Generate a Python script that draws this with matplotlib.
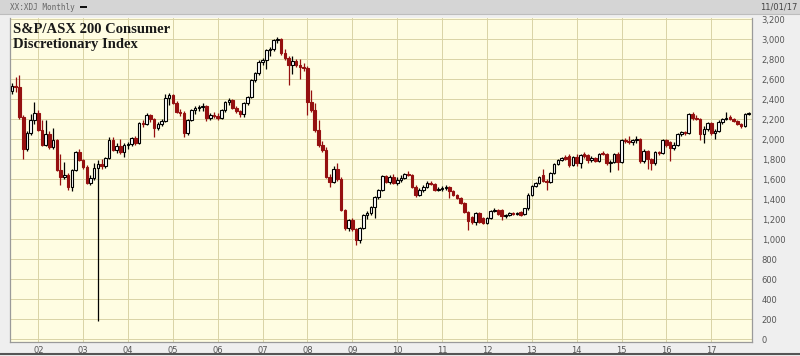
import matplotlib
matplotlib.use("Agg")
import matplotlib.pyplot as plt
import matplotlib.dates as mdates
from matplotlib.patches import Rectangle
from matplotlib.lines import Line2D
import pandas as pd
import numpy as np

# Monthly candles, Jun 2001 .. Nov 2017
months = pd.date_range("2001-06-01", "2017-11-01", freq="MS")

opens = [
    2480, 2530, 2520, 2220, 1900, 2060, 2190,
    2260, 2090, 1940, 2050, 1920, 1990, 1690, 1620, 1640, 1520, 1690, 1870,
    1790, 1720, 1560, 1610, 1710, 1750, 1730, 1810, 1990, 1890, 1930, 1870,
    1940, 1950, 2010, 1960, 2160, 2150, 2240, 2200, 2110, 2150, 2180, 2410,
    2440, 2360, 2270, 2260, 2060, 2190, 2290, 2310, 2320, 2330, 2210, 2240,
    2230, 2210, 2290, 2370, 2390, 2310, 2280, 2250, 2360, 2420, 2590, 2660,
    2770, 2790, 2890, 2900, 2990, 3000, 2860, 2810, 2740, 2780, 2740, 2720,
    2710, 2370, 2290, 2090, 1940, 1890, 1620, 1570, 1700, 1600, 1290, 1110,
    1190, 1100, 990, 1110, 1240, 1260, 1320, 1420, 1490, 1630, 1570, 1620,
    1560, 1590, 1610, 1650, 1640, 1520, 1440, 1490, 1520, 1560, 1550, 1490,
    1500, 1510, 1520, 1480, 1440, 1410, 1360, 1270, 1220, 1170, 1260, 1210,
    1160, 1210, 1280, 1290, 1290, 1230, 1240, 1260, 1250, 1270, 1250, 1310,
    1440, 1530, 1560, 1640, 1580, 1570, 1660, 1750, 1790, 1820, 1830, 1740,
    1820, 1760, 1850, 1840, 1790, 1810, 1780, 1860, 1850, 1760, 1770, 1850,
    1770, 1990, 1980, 1970, 1990, 2000, 1780, 1880, 1800, 1760, 1870, 1860,
    1990, 1970, 1910, 1940, 2050, 2070, 2060, 2250, 2210, 2200, 2050, 2100,
    2160, 2060, 2080, 2170, 2200, 2220, 2200, 2180, 2150, 2130, 2250,
]
highs = [
    2560, 2620, 2640, 2240, 2080, 2250, 2370,
    2290, 2190, 2190, 2080, 2110, 2000, 1850, 1770, 1660, 1700, 1880, 1900,
    1800, 1740, 1640, 1760, 1790, 1800, 1820, 2020, 2020, 1960, 2000, 1960,
    1970, 2020, 2030, 2170, 2190, 2260, 2250, 2210, 2170, 2200, 2450, 2460,
    2450, 2380, 2300, 2280, 2200, 2300, 2330, 2340, 2360, 2340, 2260, 2270,
    2260, 2300, 2380, 2410, 2400, 2330, 2290, 2370, 2430, 2600, 2670, 2790,
    2810, 2900, 2920, 3000, 3020, 3010, 2900, 2830, 2830, 2800, 2800, 2760,
    2730, 2490, 2360, 2190, 1980, 1920, 1650, 1730, 1760, 1620, 1300, 1200,
    1210, 1110, 1120, 1250, 1280, 1330, 1430, 1500, 1640, 1640, 1640, 1650,
    1620, 1640, 1660, 1680, 1650, 1540, 1510, 1540, 1580, 1580, 1560, 1520,
    1530, 1540, 1530, 1490, 1450, 1420, 1370, 1280, 1230, 1270, 1270, 1220,
    1220, 1290, 1310, 1300, 1300, 1250, 1270, 1270, 1270, 1280, 1310, 1460,
    1540, 1570, 1630, 1700, 1600, 1670, 1760, 1800, 1820, 1840, 1850, 1830,
    1850, 1850, 1870, 1850, 1830, 1820, 1860, 1880, 1860, 1790, 1860, 1870,
    2000, 2010, 2030, 2000, 2030, 2010, 1900, 1890, 1810, 1880, 1880, 2000,
    2000, 1980, 1970, 2060, 2080, 2080, 2260, 2270, 2240, 2210, 2130, 2170,
    2170, 2100, 2190, 2210, 2270, 2240, 2210, 2190, 2160, 2260, 2270,
]
lows = [
    2450, 2470, 2200, 1800, 1880, 2040, 2150,
    2080, 1930, 1930, 1900, 1900, 1680, 1540, 1600, 1490, 1480, 1680, 1780,
    1700, 1550, 1540, 1590, 180, 1700, 1710, 1800, 1880, 1860, 1850, 1820,
    1900, 1930, 1940, 1950, 2120, 2140, 2170, 2020, 2090, 2130, 2170, 2340,
    2350, 2260, 2230, 2020, 2040, 2180, 2250, 2280, 2280, 2180, 2190, 2210,
    2190, 2200, 2270, 2340, 2300, 2260, 2220, 2220, 2340, 2410, 2570, 2640,
    2740, 2700, 2830, 2880, 2960, 2840, 2790, 2540, 2650, 2720, 2600, 2680,
    2240, 2270, 2070, 1920, 1870, 1610, 1520, 1560, 1580, 1280, 1090, 1080,
    1080, 940, 960, 1100, 1200, 1240, 1210, 1400, 1480, 1560, 1550, 1550,
    1540, 1570, 1600, 1630, 1510, 1420, 1430, 1470, 1510, 1540, 1480, 1480,
    1480, 1490, 1410, 1430, 1400, 1350, 1260, 1090, 1150, 1140, 1160, 1150,
    1150, 1200, 1270, 1240, 1190, 1210, 1230, 1240, 1240, 1230, 1240, 1290,
    1430, 1520, 1550, 1570, 1490, 1560, 1650, 1740, 1780, 1790, 1720, 1730,
    1730, 1710, 1810, 1760, 1770, 1770, 1770, 1840, 1740, 1670, 1760, 1690,
    1760, 1960, 1950, 1940, 1960, 1760, 1760, 1700, 1690, 1740, 1840, 1850,
    1920, 1780, 1890, 1930, 2030, 2040, 2050, 2190, 2190, 1990, 1960, 2080,
    2040, 2000, 2070, 2150, 2190, 2190, 2170, 2140, 2110, 2120, 2240,
]
closes = [
    2530, 2520, 2220, 1900, 2060, 2190, 2260,
    2090, 1940, 2050, 1920, 1990, 1690, 1620, 1640, 1520, 1690, 1870, 1790,
    1720, 1560, 1610, 1710, 1750, 1730, 1810, 1990, 1890, 1930, 1870, 1940,
    1950, 2010, 1960, 2160, 2150, 2240, 2200, 2110, 2150, 2180, 2410, 2440,
    2360, 2270, 2260, 2060, 2190, 2290, 2310, 2320, 2330, 2210, 2240, 2230,
    2210, 2290, 2370, 2390, 2310, 2280, 2250, 2360, 2420, 2590, 2660, 2770,
    2790, 2890, 2900, 2990, 3000, 2860, 2810, 2740, 2780, 2740, 2720, 2710,
    2370, 2290, 2090, 1940, 1890, 1620, 1570, 1700, 1600, 1290, 1110, 1190,
    1100, 990, 1110, 1240, 1260, 1320, 1420, 1490, 1630, 1570, 1620, 1560,
    1590, 1610, 1650, 1640, 1520, 1440, 1490, 1520, 1560, 1550, 1490, 1500,
    1510, 1520, 1480, 1440, 1410, 1360, 1270, 1180, 1170, 1260, 1170, 1160,
    1210, 1280, 1290, 1250, 1230, 1240, 1260, 1250, 1260, 1240, 1310, 1440,
    1530, 1560, 1620, 1580, 1570, 1660, 1750, 1790, 1810, 1800, 1740, 1820,
    1760, 1840, 1830, 1790, 1810, 1780, 1850, 1850, 1760, 1770, 1850, 1770,
    1990, 1980, 1970, 1990, 2000, 1780, 1880, 1800, 1760, 1870, 1860, 1990,
    1940, 1910, 1940, 2050, 2070, 2060, 2250, 2210, 2200, 2050, 2100, 2160,
    2060, 2080, 2170, 2200, 2210, 2200, 2180, 2150, 2130, 2250, 2260,
]

year_ticks = pd.date_range("2002-01-01", "2017-01-01", freq="YS")
year_labels = ["02", "03", "04", "05", "06", "07", "08", "09",
               "10", "11", "12", "13", "14", "15", "16", "17"]
y_ticks = list(range(0, 3201, 200))

title = "S&P/ASX 200 Consumer\nDiscretionary Index"
symbol_text = "XX:XDJ Monthly"
date_text = "11/01/17"

W, H = 800, 356
fig = plt.figure(figsize=(W / 100, H / 100), dpi=100, facecolor="#efefef")

# header bar
fig.patches.append(Rectangle((0, 1 - 14 / H), 1, 14 / H, transform=fig.transFigure,
                             facecolor="#d5d5d5", edgecolor="none", zorder=0))
fig.lines.append(Line2D([0, 1], [1 - 14 / H, 1 - 14 / H], transform=fig.transFigure,
                        color="#bdbdbd", lw=0.8))
fig.lines.append(Line2D([0, 1], [2.5 / H, 2.5 / H], transform=fig.transFigure,
                        color="#555555", lw=1.5))

ax = fig.add_axes([10 / W, (H - 341.7) / H, (752 - 10) / W, (341.7 - 18) / H])
ax.set_facecolor("#fffde2")

x = mdates.date2num(months.to_pydatetime())
o = np.array(opens, float)
h = np.array(highs, float)
l = np.array(lows, float)
c = np.array(closes, float)
up = c >= o

up_col = "#000000"
dn_col = "#951010"

ax.vlines(x[up], l[up], h[up], color=up_col, lw=0.9, zorder=3)
ax.vlines(x[~up], l[~up], h[~up], color=dn_col, lw=0.9, zorder=3)

body_bot = np.minimum(o, c)
body_h = np.maximum(np.abs(c - o), 8)
ax.bar(x[up], body_h[up], bottom=body_bot[up], width=21, facecolor="white",
       edgecolor=up_col, linewidth=0.8, zorder=4)
ax.bar(x[~up], body_h[~up], bottom=body_bot[~up], width=21, facecolor=dn_col,
       edgecolor=dn_col, linewidth=0.8, zorder=4)

ax.set_xlim(mdates.date2num(pd.Timestamp("2001-05-16")),
            mdates.date2num(pd.Timestamp("2017-11-28")))
ax.set_ylim(-25, 3215)

ax.set_xticks(mdates.date2num(year_ticks.to_pydatetime()))
ax.set_xticklabels(year_labels)
ax.yaxis.tick_right()
ax.set_yticks(y_ticks)
ax.set_yticklabels([f"{v:,}" for v in y_ticks])
ax.tick_params(axis="both", length=0, labelsize=6, colors="#555555")
ax.tick_params(axis="y", pad=7)
ax.tick_params(axis="x", pad=3)

ax.grid(True, color="#d9d3a6", lw=0.7, zorder=0)
ax.set_axisbelow(True)
for side in ("left", "bottom", "right"):
    ax.spines[side].set_color("#9a9a9a")
    ax.spines[side].set_linewidth(0.9)
ax.spines["top"].set_visible(False)

ax.text(3 / 742, 1 - 5 / 323.7, title, transform=ax.transAxes, ha="left", va="top",
        family="Liberation Serif", fontweight="bold", fontsize=10.5,
        color="#1a1a1a", linespacing=1.2, zorder=6)

fig.text(10 / W, 1 - 7 / H, symbol_text, ha="left", va="center",
         family="DejaVu Sans Mono", fontsize=5.5, color="#666666")
fig.patches.append(Rectangle((80 / W, 1 - 8.2 / H), 7 / W, 2.2 / H,
                             transform=fig.transFigure, facecolor="#111111",
                             edgecolor="none"))
fig.text(797 / W, 1 - 7 / H, date_text, ha="right", va="center",
         fontsize=6, color="#444444")

fig.savefig("out.png", dpi=100, facecolor=fig.get_facecolor())
